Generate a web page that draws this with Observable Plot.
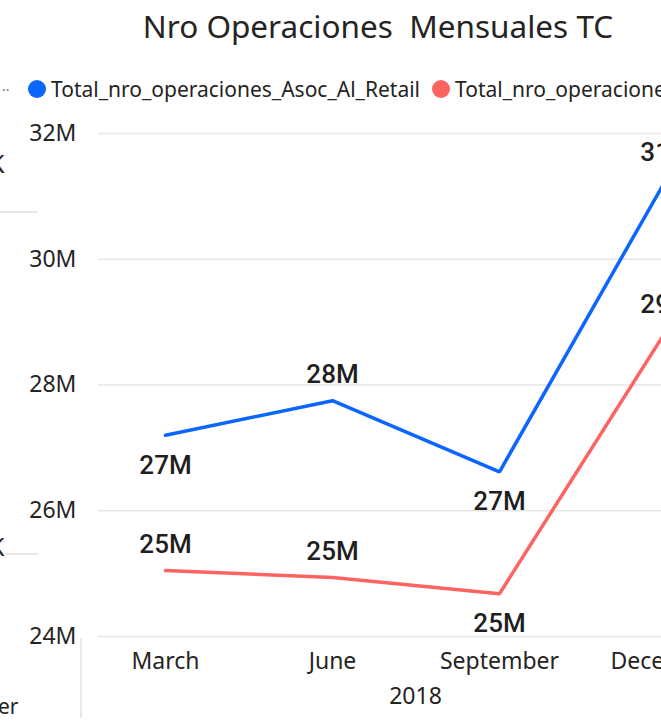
<!DOCTYPE html>
<html><head><meta charset="utf-8">
<script src="https://cdn.jsdelivr.net/npm/d3@7"></script>
<script src="https://cdn.jsdelivr.net/npm/@observablehq/plot@0.6"></script>
<style>
html,body{margin:0;padding:0;background:#fff;}
body{width:661px;height:727px;overflow:hidden;position:relative;font-family:"Noto Sans","Open Sans",sans-serif;color:#252423;}
#title{position:absolute;left:0;top:4px;width:756px;text-align:center;font-size:31.5px;white-space:nowrap;}
#legend{position:absolute;left:0;top:74px;height:30px;display:flex;align-items:center;font-size:21px;white-space:nowrap;}
#legend .dots{width:28px;color:#777;font-size:14px;padding-left:2px;box-sizing:border-box;}
#legend .sw{width:18px;height:18px;border-radius:50%;margin-right:5px;flex:none;}
#legend .item{display:flex;align-items:center;margin-right:12px;}
#chart{position:absolute;left:0;top:110px;width:732px;}
#chart svg{max-width:none !important;}
.deco{position:absolute;background:#e8e8e8;}
.frag{position:absolute;color:#252423;white-space:nowrap;}
</style></head>
<body>
<div id="title">Nro Operaciones&nbsp; Mensuales TC</div>
<div id="legend"></div>
<div id="chart"></div>
<div class="deco" style="left:80px;top:638px;width:2px;height:80px;"></div>
<div class="deco" style="left:0;top:211px;width:38px;height:2px;"></div>
<div class="deco" style="left:5px;top:553px;width:33px;height:2px;"></div>
<div class="frag" style="left:-11px;top:146px;font-size:25px;">K</div>
<div class="frag" style="left:-11px;top:529px;font-size:25px;">K</div>
<div class="frag" style="left:-2px;top:692px;font-size:21px;">er</div>
<script>
const months = ["March", "June", "September", "December"];
const seriesNames = ["Total_nro_operaciones_Asoc_Al_Retail", "Total_nro_operaciones"];
const retailValues = [27200000, 27750000, 26620000, 31280000];
const otherValues = [25050000, 24940000, 24680000, 28870000];
const yTicks = [24000000, 26000000, 28000000, 30000000, 32000000];
const colors = ["#0a66ff", "#fd6361"];
const yearLabel = ["2018"];

const data = [];
[retailValues, otherValues].forEach((vals, s) => {
  vals.forEach((v, i) => {
    data.push({series: seriesNames[s], month: months[i], value: v,
      below: i < vals.length - 1 && v < vals[i + 1]});
  });
});

// legend
const legend = document.getElementById("legend");
legend.innerHTML = '<span class="dots">··</span>' + seriesNames.map((n, i) =>
  `<span class="item"><span class="sw" style="background:${colors[i]}"></span>${n}</span>`).join("");

const fmtM = d => Math.round(d / 1e6) + "M";
const labelStyle = {fontFamily: "Roboto", fontSize: 26, fontWeight: 500, fill: "#1f1f1f"};

const plot = Plot.plot({
  width: 732, height: 617,
  marginTop: 23, marginBottom: 91, marginLeft: 98, marginRight: 0,
  style: {fontFamily: "Noto Sans", fontSize: "23px", color: "#252423", overflow: "visible", background: "transparent", maxWidth: "none"},
  x: {type: "point", domain: months, padding: 0.395, axis: null},
  y: {domain: [24000000, 32000000], axis: null},
  color: {domain: seriesNames, range: colors},
  marks: [
    Plot.gridY(yTicks, {stroke: "#e6e6e6", strokeOpacity: 1, strokeWidth: 1.5}),
    Plot.axisY(yTicks, {tickSize: 0, tickPadding: 22, tickFormat: fmtM, label: null, fontSize: 23}),
    Plot.axisX({tickSize: 0, tickPadding: 16, label: null, fontSize: 23}),
    Plot.text(yearLabel, {frameAnchor: "bottom", text: d => d, dy: 67, fontSize: 23}),
    Plot.line(data, {x: "month", y: "value", z: "series", stroke: "series", strokeWidth: 3.5, strokeLinejoin: "miter"}),
    Plot.text(data.filter(d => d.below), {x: "month", y: "value", text: d => fmtM(d.value), dy: 30, ...labelStyle}),
    Plot.text(data.filter(d => !d.below), {x: "month", y: "value", text: d => fmtM(d.value), dy: -26, ...labelStyle})
  ]
});
document.getElementById("chart").appendChild(plot);
</script>
</body></html>
